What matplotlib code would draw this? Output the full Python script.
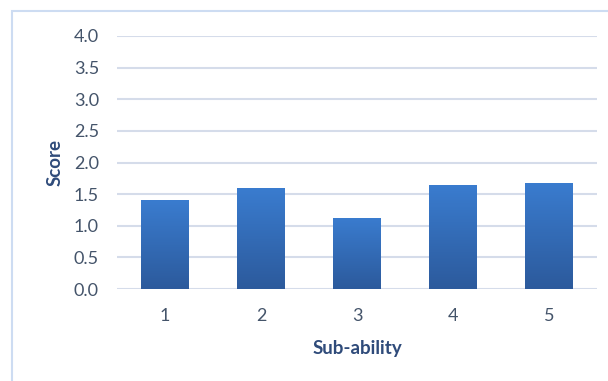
import matplotlib
matplotlib.use("Agg")
import matplotlib.pyplot as plt
import numpy as np
from matplotlib.patches import Rectangle

# Data
categories = ["1", "2", "3", "4", "5"]
scores = [1.40, 1.59, 1.13, 1.64, 1.68]
y_ticks = [0.0, 0.5, 1.0, 1.5, 2.0, 2.5, 3.0, 3.5, 4.0]

W, H = 608, 381
fig = plt.figure(figsize=(W / 100, H / 100), dpi=100)
fig.patch.set_facecolor("white")

# light chart-area frame
fig.patches.append(Rectangle((12 / W, -0.1), 1.2, (H - 11) / H + 0.1,
                             transform=fig.transFigure, fill=False,
                             edgecolor="#cddcf2", linewidth=1.5))

ax = fig.add_axes([117 / W, 92 / H, 480 / W, 253 / H])
ax.set_facecolor("none")

x = np.arange(len(categories))
bars = ax.bar(x, scores, width=0.5, color="#3470c0", zorder=3)

# vertical gradient inside each bar
grad = np.linspace(0, 1, 256).reshape(-1, 1)
cmap = matplotlib.colors.LinearSegmentedColormap.from_list(
    "bar", ["#2c5a9c", "#3a7ccf"])
for b in bars:
    x0, w, h = b.get_x(), b.get_width(), b.get_height()
    im = ax.imshow(grad, extent=[x0, x0 + w, 0, h], origin="lower",
                   cmap=cmap, aspect="auto", zorder=4)
    im.set_clip_path(b)

ax.set_xlim(-0.5, len(categories) - 0.5)
ax.set_ylim(0, 4.0)
ax.set_yticks(y_ticks)
ax.set_yticklabels([f"{v:.1f}" for v in y_ticks])
ax.set_xticks(x)
ax.set_xticklabels(categories)

ax.grid(True, axis="y", color="#d5dcea", linewidth=1.5, zorder=0)
for s in ax.spines.values():
    s.set_visible(False)
ax.tick_params(axis="both", length=0, colors="#44546a", labelsize=13)
ax.tick_params(axis="y", pad=13)
ax.tick_params(axis="x", pad=14)
for lbl in ax.get_xticklabels() + ax.get_yticklabels():
    lbl.set_fontfamily("Lato")

ax.set_xlabel("Sub-ability", fontsize=13.5, fontweight="bold", color="#2f4b7a",
              fontfamily="Lato", labelpad=11)
ax.set_ylabel("Score", fontsize=13.5, fontweight="bold", color="#2f4b7a",
              fontfamily="Lato", labelpad=7)

fig.savefig("out.png", dpi=100)
